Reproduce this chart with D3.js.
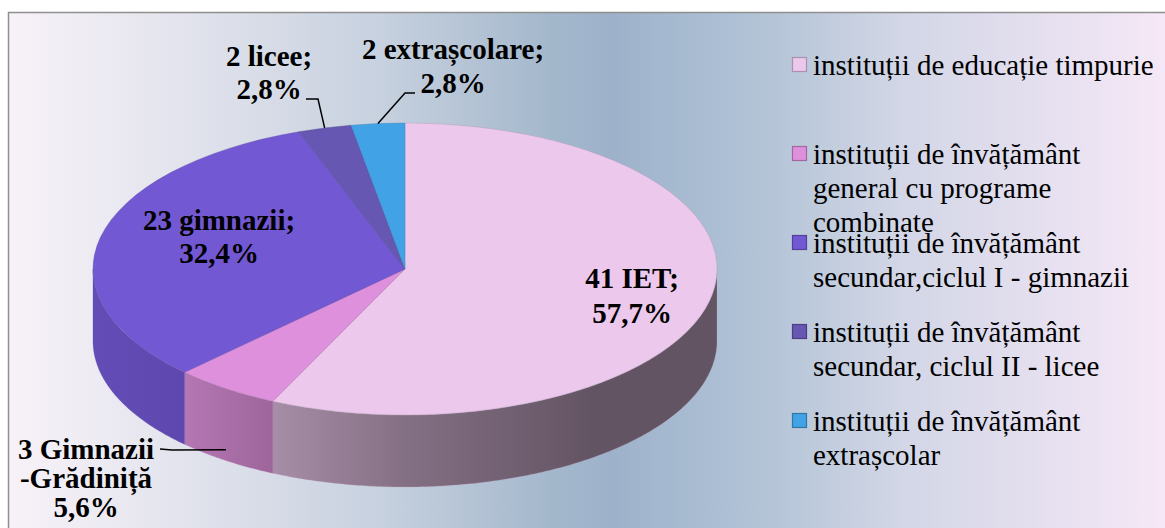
<!DOCTYPE html>
<html>
<head>
<meta charset="utf-8">
<script src="https://cdn.jsdelivr.net/npm/d3@7"></script>
<style>
	body { margin: 0; background: #fff; }
	svg { display: block; }
</style>
</head>
<body>
<svg id="chart" width="1165" height="528"></svg>
<script>
// data
const categories = [
	["instituții de educație timpurie"],
	["instituții de învățământ", "general cu programe", "combinate"],
	["instituții de învățământ", "secundar,ciclul I - gimnazii"],
	["instituții de învățământ", "secundar, ciclul II - licee"],
	["instituții de învățământ", "extrașcolar"]
];
const percents = [57.7, 5.6, 32.4, 2.8, 2.8];
const labelNames = [["41 IET;"], ["3 Gimnazii", "-Grădiniță"], ["23 gimnazii;"], ["2 licee;"], ["2 extrașcolare;"]];
const sliceColors = ["#ecc8ec", "#de90dc", "#7358d4", "#6658b2", "#42a2e6"];

// layout
const cx = 405, cy = 269, rx = 312, ry = 146, depth = 72;
const labelFont = 29, labelLine = 33;
const labelPos = [
	{x: 632, y: 288, step: 35},
	{x: 86, y: 459, step: 29},
	{x: 219, y: 230, step: 33},
	{x: 269, y: 66, step: 33},
	{x: 453, y: 59, step: 34}
];

const ro = d3.formatLocale({decimal: ",", thousands: ".", grouping: [3], currency: ["", ""]});
const fmtPct = v => ro.format(".1f")(v) + "%";

const svg = d3.select("#chart");
const defs = svg.append("defs");

// background panel
const bgStops = [
	[8, "#f8f2f8"], [200, "#e0e2ec"], [380, "#c7d1df"], [550, "#a4b8cc"],
	[610, "#9db2ca"], [700, "#a9bcd2"], [780, "#b6c6d8"], [900, "#d2d6e6"],
	[1050, "#e6e0f0"], [1165, "#f6e8f6"]
];
const bg = defs.append("linearGradient")
	.attr("id", "bg")
	.attr("gradientUnits", "userSpaceOnUse")
	.attr("x1", 8).attr("x2", 1165).attr("y1", 0).attr("y2", 0);
bg.selectAll("stop").data(bgStops).join("stop")
	.attr("offset", d => (d[0] - 8) / (1165 - 8))
	.attr("stop-color", d => d[1]);

svg.append("rect")
	.attr("x", 8.5).attr("y", 12.5)
	.attr("width", 1170).attr("height", 530)
	.attr("fill", "url(#bg)")
	.attr("stroke", "#8f8f8f")
	.attr("stroke-width", 1.5);

// pie layout, clockwise from 12 o'clock
const pie = d3.pie().sort(null).value(d => d);
const arcs = pie(percents);

// side shading, lighter on the left, darker on the right
// (gradient coords are local to the pie group, so -rx..rx)
const shade = [[0, 0.86], [0.13, 0.83], [0.27, 0.72], [0.5, 0.56], [0.8, 0.42], [1, 0.42]];
arcs.forEach((d, i) => {
	const c = d3.rgb(sliceColors[i]);
	const g = defs.append("linearGradient")
		.attr("id", "side" + i)
		.attr("gradientUnits", "userSpaceOnUse")
		.attr("x1", -rx).attr("x2", rx).attr("y1", 0).attr("y2", 0);
	g.selectAll("stop").data(shade).join("stop")
		.attr("offset", s => s[0])
		.attr("stop-color", s => d3.rgb(c.r * s[1], c.g * s[1], c.b * s[1]).formatHex());
});

const pieG = svg.append("g").attr("transform", `translate(${cx},${cy})`);

// visible front wall
const sideArea = d3.area()
	.x(a => rx * Math.sin(a))
	.y0(a => -ry * Math.cos(a))
	.y1(a => -ry * Math.cos(a) + depth);

arcs.forEach((d, i) => {
	const a0 = Math.max(d.startAngle, Math.PI / 2);
	const a1 = Math.min(d.endAngle, 3 * Math.PI / 2);
	if (a0 >= a1) return;
	const angles = d3.range(a0, a1, 0.01).concat([a1]);
	pieG.append("path")
		.attr("d", sideArea(angles))
		.attr("fill", `url(#side${i})`)
		.attr("stroke", d3.rgb(sliceColors[i]).darker(0.6))
		.attr("stroke-opacity", 0.35)
		.attr("stroke-width", 0.8);
});

// top surface: circular arcs squashed into an ellipse
const arcGen = d3.arc().innerRadius(0).outerRadius(rx);
pieG.append("g")
	.attr("transform", `scale(1,${ry / rx})`)
	.selectAll("path").data(arcs).join("path")
	.attr("d", arcGen)
	.attr("fill", (d, i) => sliceColors[i])
	.attr("stroke", (d, i) => d3.rgb(sliceColors[i]).darker(0.8))
	.attr("stroke-opacity", 0.45)
	.attr("stroke-width", 0.8)
	.attr("vector-effect", "non-scaling-stroke");

// data labels
const labels = svg.append("g")
	.attr("font-family", "'Liberation Serif', 'Times New Roman', serif")
	.attr("font-weight", "bold")
	.attr("font-size", labelFont)
	.attr("fill", "#000")
	.attr("text-anchor", "middle");

arcs.forEach((d, i) => {
	const lines = labelNames[i].concat([fmtPct(percents[i])]);
	const t = labels.append("text")
		.attr("x", labelPos[i].x)
		.attr("y", labelPos[i].y);
	lines.forEach((s, k) => {
		t.append("tspan")
			.attr("x", labelPos[i].x)
			.attr("dy", k == 0 ? 0 : labelPos[i].step)
			.text(s);
	});
});

// leader lines to slice edges
function edgePoint(d, down) {
	const a = (d.startAngle + d.endAngle) / 2;
	return [cx + rx * Math.sin(a), cy - ry * Math.cos(a) + down];
}
const leaders = [
	[1, [[160, 449], [172, 450]], depth * 0.85],
	[3, [[306, 99], [318, 99]], 0],
	[4, [[415, 93], [405, 93]], 0]
];
leaders.forEach(l => {
	const pts = l[1].concat([edgePoint(arcs[l[0]], l[2])]);
	svg.append("path")
		.attr("d", d3.line()(pts))
		.attr("fill", "none")
		.attr("stroke", "#000")
		.attr("stroke-width", 1.5);
});

// legend
const legendX = 792, legendY0 = 75, legendStep = 89, legendLine = 34;
const legend = svg.append("g")
	.attr("font-family", "'Liberation Serif', 'Times New Roman', serif")
	.attr("font-size", 29)
	.attr("fill", "#000");

categories.forEach((lines, i) => {
	const y = legendY0 + i * legendStep;
	legend.append("rect")
		.attr("x", legendX + 0.5).attr("y", y - 17.5)
		.attr("width", 14).attr("height", 14)
		.attr("fill", sliceColors[i])
		.attr("stroke", d3.rgb(sliceColors[i]).darker(0.9))
		.attr("stroke-width", 1.2);
	const t = legend.append("text").attr("x", legendX + 21).attr("y", y);
	lines.forEach((s, k) => {
		t.append("tspan")
			.attr("x", legendX + 21)
			.attr("dy", k == 0 ? 0 : legendLine)
			.text(s);
	});
});
</script>
</body>
</html>
